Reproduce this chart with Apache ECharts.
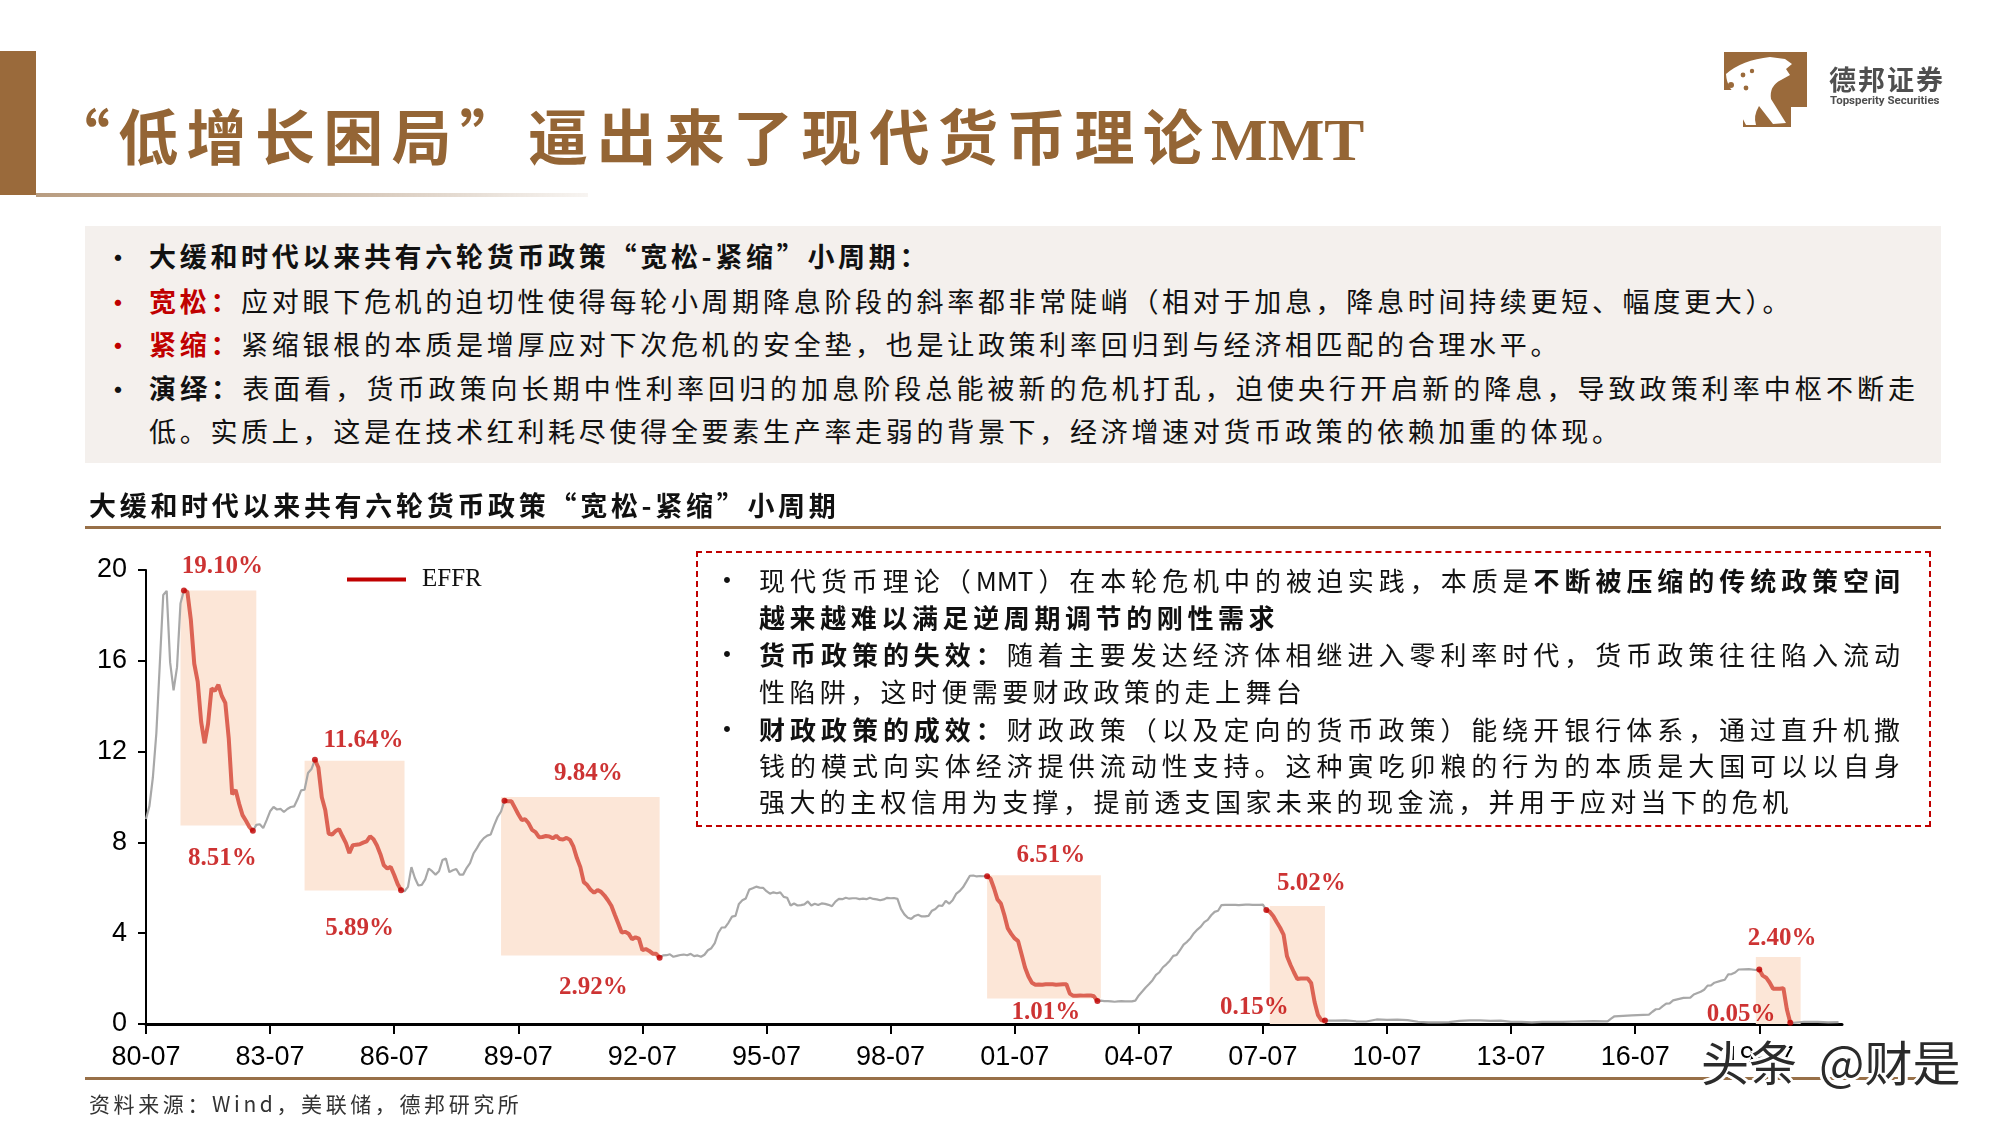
<!DOCTYPE html>
<html>
<head>
<meta charset="utf-8">
<script src="https://cdn.jsdelivr.net/npm/echarts@6/dist/echarts.min.js"></script>
<style>
  body { margin: 0; width: 2000px; height: 1125px; background: #fff; overflow: hidden; position: relative;
         font-family: "Noto Sans CJK SC", sans-serif; color: #111; }
  #chart { position: absolute; left: 0; top: 0; width: 2000px; height: 1125px; }
  .abs { position: absolute; white-space: nowrap; }
  .ln { position: absolute; white-space: nowrap; height: 44px; line-height: 44px; font-size: 27px; letter-spacing: 3.7px; }
  .dot { position: absolute; font-size: 30px; height: 44px; line-height: 44px; }
  .red { color: #c00000; font-weight: 700; }
  b { font-weight: 700; }
  .bx { position: absolute; left: 759px; height: 37px; line-height: 37px; font-size: 26px; white-space: nowrap; letter-spacing: 4.4px; }
  .bx.full { width: 1141px; text-align: justify; text-align-last: justify; letter-spacing: 0; }
  .bd { position: absolute; left: 713px; font-size: 28px; height: 37px; line-height: 37px; }
</style>
</head>
<body>
<div id="chart"></div>

<!-- header -->
<div class="abs" style="left:0;top:51px;width:36px;height:144px;background:#9a6a3b"></div>
<div class="abs" style="left:36px;top:193px;width:552px;height:4px;background:linear-gradient(to right,#b89c80,#d8cabc 60%,rgba(230,220,210,0.3))"></div>
<div class="abs" style="left:50px;top:94px;height:80px;line-height:80px;font-size:60px;font-weight:700;letter-spacing:8.3px;color:#946535">“低增长困局”逼出来了现代货币理论<span style="font-family:'Liberation Serif',serif;letter-spacing:0">MMT</span></div>

<svg class="abs" style="left:1720px;top:48px" width="95" height="85" viewBox="1720 48 95 85">
  <path d="M1724,52 H1807 V107 H1791 V127 H1743 V90 H1724 Z" fill="#9a6a3b"/>
  <path d="M1726,74 Q1742,60 1770,57 L1785,59 L1792,64 L1786,69 L1790,75 L1781,80 Q1769,86 1771,99 L1786,123 L1773,124 L1759,106 Q1753,116 1756,125 L1746,125 Q1737,110 1740,97 Q1727,90 1726,74 Z" fill="#fff"/>
  <circle cx="1731" cy="85" r="3" fill="#9a6a3b"/>
  <circle cx="1743" cy="75" r="2.4" fill="#9a6a3b"/>
  <circle cx="1752" cy="71" r="2.2" fill="#9a6a3b"/>
  <circle cx="1746" cy="88" r="2.4" fill="#9a6a3b"/>
</svg>
<div class="abs" style="left:1829px;top:63px;height:32px;line-height:32px;font-size:27px;font-weight:700;letter-spacing:2px;color:#4f4f4f">德邦证券</div>
<div class="abs" style="left:1830px;top:92px;height:16px;line-height:16px;font-size:11.5px;font-weight:700;font-family:Roboto,sans-serif;color:#4f4f4f">Topsperity Securities</div>

<!-- summary box -->
<div class="abs" style="left:85px;top:226px;width:1856px;height:237px;background:#f4f0ed"></div>
<div class="dot" style="left:103px;top:234px">•</div>
<div class="ln" style="left:149px;top:234px;font-weight:700;letter-spacing:3.7px">大缓和时代以来共有六轮货币政策“宽松-紧缩”小周期：</div>
<div class="dot" style="left:103px;top:279px;color:#c00000">•</div>
<div class="ln" style="left:149px;top:279px"><span class="red">宽松：</span>应对眼下危机的迫切性使得每轮小周期降息阶段的斜率都非常陡峭（相对于加息，降息时间持续更短、幅度更大）。</div>
<div class="dot" style="left:103px;top:322px;color:#c00000">•</div>
<div class="ln" style="left:149px;top:322px"><span class="red">紧缩：</span>紧缩银根的本质是增厚应对下次危机的安全垫，也是让政策利率回归到与经济相匹配的合理水平。</div>
<div class="dot" style="left:103px;top:366px">•</div>
<div class="ln" style="left:149px;top:366px;width:1766px;letter-spacing:0;text-align:justify;text-align-last:justify"><b>演绎：</b>表面看，货币政策向长期中性利率回归的加息阶段总能被新的危机打乱，迫使央行开启新的降息，导致政策利率中枢不断走</div>
<div class="ln" style="left:149px;top:409px">低。实质上，这是在技术红利耗尽使得全要素生产率走弱的背景下，经济增速对货币政策的依赖加重的体现。</div>

<!-- chart title -->
<div class="abs" style="left:89px;top:487px;height:36px;line-height:36px;font-size:27px;font-weight:700;letter-spacing:3.7px">大缓和时代以来共有六轮货币政策“宽松-紧缩”小周期</div>
<div class="abs" style="left:85px;top:526px;width:1856px;height:3px;background:#987048"></div>

<!-- dashed note box -->
<div class="abs" style="left:696px;top:551px;width:1231px;height:272px;border:2.5px dashed #c00000"></div>
<div class="bd" style="top:561px">•</div>
<div class="bx full" style="top:561px">现代货币理论（MMT）在本轮危机中的被迫实践，本质是<b>不断被压缩的传统政策空间</b></div>
<div class="bx" style="top:598px;font-weight:700;letter-spacing:4.6px">越来越难以满足逆周期调节的刚性需求</div>
<div class="bd" style="top:635px">•</div>
<div class="bx full" style="top:635px"><b>货币政策的失效：</b>随着主要发达经济体相继进入零利率时代，货币政策往往陷入流动</div>
<div class="bx" style="top:672px">性陷阱，这时便需要财政政策的走上舞台</div>
<div class="bd" style="top:710px">•</div>
<div class="bx full" style="top:710px"><b>财政政策的成效：</b>财政政策（以及定向的货币政策）能绕开银行体系，通过直升机撒</div>
<div class="bx full" style="top:746px">钱的模式向实体经济提供流动性支持。这种寅吃卯粮的行为的本质是大国可以以自身</div>
<div class="bx" style="top:782px">强大的主权信用为支撑，提前透支国家未来的现金流，并用于应对当下的危机</div>

<!-- footer -->
<div class="abs" style="left:85px;top:1077px;width:1856px;height:3px;background:#987048"></div>
<div class="abs" style="left:89px;top:1088px;height:30px;line-height:30px;font-size:21px;letter-spacing:3.6px;color:#333">资料来源：Wind，美联储，德邦研究所</div>
<div class="abs" style="left:1701px;top:1030px;height:60px;line-height:60px;font-size:48px;color:#2b2b2b;
  text-shadow:-3px 0 #fff,3px 0 #fff,0 -3px #fff,0 3px #fff,-2px -2px #fff,2px 2px #fff,-2px 2px #fff,2px -2px #fff">头条<span style="margin-left:22px">@财是</span></div>

<script>
// EFFR monthly (%)
const effrDates = [
  '1980-07','1980-08','1980-09','1980-10','1980-11','1980-12',
  '1981-01','1981-02','1981-03','1981-04','1981-05','1981-06','1981-07','1981-08','1981-09','1981-10','1981-11','1981-12',
  '1982-01','1982-02','1982-03','1982-04','1982-05','1982-06','1982-07','1982-08','1982-09','1982-10','1982-11','1982-12',
  '1983-01','1983-02','1983-03','1983-04','1983-05','1983-06','1983-07','1983-08','1983-09','1983-10','1983-11','1983-12',
  '1984-01','1984-02','1984-03','1984-04','1984-05','1984-06','1984-07','1984-08','1984-09','1984-10','1984-11','1984-12',
  '1985-01','1985-02','1985-03','1985-04','1985-05','1985-06','1985-07','1985-08','1985-09','1985-10','1985-11','1985-12',
  '1986-01','1986-02','1986-03','1986-04','1986-05','1986-06','1986-07','1986-08','1986-09','1986-10','1986-11','1986-12',
  '1987-01','1987-02','1987-03','1987-04','1987-05','1987-06','1987-07','1987-08','1987-09','1987-10','1987-11','1987-12',
  '1988-01','1988-02','1988-03','1988-04','1988-05','1988-06','1988-07','1988-08','1988-09','1988-10','1988-11','1988-12',
  '1989-01','1989-02','1989-03','1989-04','1989-05','1989-06','1989-07','1989-08','1989-09','1989-10','1989-11','1989-12',
  '1990-01','1990-02','1990-03','1990-04','1990-05','1990-06','1990-07','1990-08','1990-09','1990-10','1990-11','1990-12',
  '1991-01','1991-02','1991-03','1991-04','1991-05','1991-06','1991-07','1991-08','1991-09','1991-10','1991-11','1991-12',
  '1992-01','1992-02','1992-03','1992-04','1992-05','1992-06','1992-07','1992-08','1992-09','1992-10','1992-11','1992-12',
  '1993-01','1993-02','1993-03','1993-04','1993-05','1993-06','1993-07','1993-08','1993-09','1993-10','1993-11','1993-12',
  '1994-01','1994-02','1994-03','1994-04','1994-05','1994-06','1994-07','1994-08','1994-09','1994-10','1994-11','1994-12',
  '1995-01','1995-02','1995-03','1995-04','1995-05','1995-06','1995-07','1995-08','1995-09','1995-10','1995-11','1995-12',
  '1996-01','1996-02','1996-03','1996-04','1996-05','1996-06','1996-07','1996-08','1996-09','1996-10','1996-11','1996-12',
  '1997-01','1997-02','1997-03','1997-04','1997-05','1997-06','1997-07','1997-08','1997-09','1997-10','1997-11','1997-12',
  '1998-01','1998-02','1998-03','1998-04','1998-05','1998-06','1998-07','1998-08','1998-09','1998-10','1998-11','1998-12',
  '1999-01','1999-02','1999-03','1999-04','1999-05','1999-06','1999-07','1999-08','1999-09','1999-10','1999-11','1999-12',
  '2000-01','2000-02','2000-03','2000-04','2000-05','2000-06','2000-07','2000-08','2000-09','2000-10','2000-11','2000-12',
  '2001-01','2001-02','2001-03','2001-04','2001-05','2001-06','2001-07','2001-08','2001-09','2001-10','2001-11','2001-12',
  '2002-01','2002-02','2002-03','2002-04','2002-05','2002-06','2002-07','2002-08','2002-09','2002-10','2002-11','2002-12',
  '2003-01','2003-02','2003-03','2003-04','2003-05','2003-06','2003-07','2003-08','2003-09','2003-10','2003-11','2003-12',
  '2004-01','2004-02','2004-03','2004-04','2004-05','2004-06','2004-07','2004-08','2004-09','2004-10','2004-11','2004-12',
  '2005-01','2005-02','2005-03','2005-04','2005-05','2005-06','2005-07','2005-08','2005-09','2005-10','2005-11','2005-12',
  '2006-01','2006-02','2006-03','2006-04','2006-05','2006-06','2006-07','2006-08','2006-09','2006-10','2006-11','2006-12',
  '2007-01','2007-02','2007-03','2007-04','2007-05','2007-06','2007-07','2007-08','2007-09','2007-10','2007-11','2007-12',
  '2008-01','2008-02','2008-03','2008-04','2008-05','2008-06','2008-07','2008-08','2008-09','2008-10','2008-11','2008-12',
  '2009-01','2009-04','2009-07','2009-10','2010-01','2010-04','2010-07','2010-10',
  '2011-01','2011-04','2011-07','2011-10','2012-01','2012-04','2012-07','2012-10',
  '2013-01','2013-04','2013-07','2013-10','2014-01','2014-04','2014-07','2014-10',
  '2015-01','2015-04','2015-07','2015-10','2015-11','2015-12',
  '2016-01','2016-06','2016-11','2016-12','2017-01','2017-02','2017-03','2017-04','2017-05','2017-06','2017-09','2017-11','2017-12',
  '2018-02','2018-03','2018-04','2018-05','2018-06','2018-08','2018-09','2018-10','2018-11','2018-12',
  '2019-01','2019-04','2019-06','2019-07','2019-08','2019-09','2019-10','2019-11','2019-12',
  '2020-01','2020-02','2020-03','2020-04','2020-05','2020-08','2020-12','2021-03','2021-06'
];
const effrValues = [
  9.03, 9.61, 10.87, 12.81, 15.85, 18.90,
  19.08, 15.93, 14.70, 15.72, 18.52, 19.10, 19.04, 17.82, 15.87, 15.08, 13.31, 12.37,
  13.22, 14.78, 14.68, 14.94, 14.45, 14.15, 12.59, 10.12, 10.31, 9.71, 9.20, 8.95,
  8.68, 8.51, 8.77, 8.80, 8.63, 8.98, 9.37, 9.56, 9.45, 9.48, 9.34, 9.47,
  9.56, 9.59, 9.91, 10.29, 10.32, 11.06, 11.23, 11.64, 11.30, 9.99, 9.43, 8.38,
  8.35, 8.50, 8.58, 8.27, 7.97, 7.53, 7.88, 7.90, 7.92, 7.99, 8.05, 8.27,
  8.14, 7.86, 7.48, 6.99, 6.85, 6.92, 6.56, 6.17, 5.89, 5.85, 6.04, 6.91,
  6.43, 6.10, 6.13, 6.37, 6.85, 6.73, 6.58, 6.73, 7.22, 7.29, 6.69, 6.77,
  6.83, 6.58, 6.58, 6.87, 7.09, 7.51, 7.75, 8.01, 8.19, 8.30, 8.35, 8.76,
  9.12, 9.36, 9.84, 9.81, 9.81, 9.53, 9.24, 8.99, 9.02, 8.84, 8.55, 8.45,
  8.23, 8.24, 8.28, 8.26, 8.18, 8.29, 8.15, 8.13, 8.20, 8.11, 7.81, 7.31,
  6.91, 6.25, 6.12, 5.91, 5.78, 5.90, 5.82, 5.66, 5.45, 5.21, 4.81, 4.43,
  4.03, 4.06, 3.98, 3.73, 3.82, 3.76, 3.25, 3.30, 3.22, 3.10, 3.09, 2.92,
  3.02, 3.03, 3.07, 2.96, 3.00, 3.04, 3.06, 3.03, 3.09, 2.99, 3.02, 2.96,
  3.05, 3.25, 3.34, 3.56, 4.01, 4.25, 4.26, 4.47, 4.73, 4.76, 5.29, 5.45,
  5.53, 5.92, 5.98, 6.05, 6.01, 6.00, 5.85, 5.74, 5.80, 5.76, 5.80, 5.60,
  5.56, 5.22, 5.31, 5.22, 5.24, 5.27, 5.40, 5.22, 5.30, 5.24, 5.31, 5.29,
  5.25, 5.19, 5.39, 5.51, 5.50, 5.56, 5.52, 5.54, 5.54, 5.50, 5.52, 5.50,
  5.56, 5.51, 5.49, 5.45, 5.49, 5.56, 5.54, 5.55, 5.51, 5.07, 4.83, 4.68,
  4.63, 4.76, 4.81, 4.74, 4.74, 4.76, 4.99, 5.07, 5.22, 5.20, 5.42, 5.30,
  5.45, 5.73, 5.85, 6.02, 6.27, 6.53, 6.54, 6.50, 6.52, 6.51, 6.51, 6.40,
  5.98, 5.49, 5.31, 4.80, 4.21, 3.97, 3.77, 3.65, 3.07, 2.49, 2.09, 1.82,
  1.73, 1.74, 1.73, 1.75, 1.75, 1.75, 1.73, 1.74, 1.75, 1.75, 1.34, 1.24,
  1.24, 1.26, 1.25, 1.26, 1.26, 1.22, 1.01, 1.03, 1.01, 1.01, 1.00, 0.98,
  1.00, 1.01, 1.00, 1.00, 1.00, 1.03, 1.26, 1.43, 1.61, 1.76, 1.93, 2.16,
  2.28, 2.50, 2.63, 2.79, 3.00, 3.04, 3.26, 3.50, 3.62, 3.78, 4.00, 4.16,
  4.29, 4.49, 4.59, 4.79, 4.94, 4.99, 5.24, 5.25, 5.25, 5.25, 5.25, 5.24,
  5.25, 5.26, 5.26, 5.25, 5.25, 5.25, 5.26, 5.02, 4.94, 4.76, 4.49, 4.24,
  3.94, 2.98, 2.61, 2.28, 1.98, 2.00, 2.01, 2.00, 1.81, 0.97, 0.39, 0.16,
  0.15, 0.15, 0.16, 0.12, 0.11, 0.20, 0.18, 0.19,
  0.17, 0.10, 0.07, 0.07, 0.08, 0.14, 0.16, 0.16,
  0.14, 0.15, 0.09, 0.09, 0.07, 0.09, 0.09, 0.09,
  0.11, 0.12, 0.13, 0.12, 0.12, 0.24,
  0.34, 0.38, 0.41, 0.54, 0.65, 0.66, 0.79, 0.90, 0.91, 1.04, 1.15, 1.16, 1.30,
  1.42, 1.51, 1.69, 1.70, 1.82, 1.91, 1.95, 2.19, 2.20, 2.27,
  2.40, 2.42, 2.38, 2.40, 2.13, 2.04, 1.83, 1.55, 1.55,
  1.55, 1.58, 0.65, 0.05, 0.05, 0.10, 0.09, 0.07, 0.08
];

// easing cycles: from peak to trough (red segments)
const easeStart = ['1981-06', '1984-08', '1989-03', '2000-11', '2007-08', '2019-07'];
const easeEnd   = ['1983-02', '1986-09', '1992-12', '2003-07', '2009-01', '2020-04'];

// shaded boxes
const boxFrom   = ['1981-05', '1984-05', '1989-02', '2000-11', '2007-09', '2019-06'];
const boxTo     = ['1983-03', '1986-10', '1992-12', '2003-08', '2009-01', '2020-07'];
const boxTop    = [19.1, 11.6, 10.0, 6.55, 5.2, 2.95];
const boxBottom = [8.75, 5.88, 3.02, 1.12, 0, 0];

const tickLabels = ['80-07', '83-07', '86-07', '89-07', '92-07', '95-07', '98-07',
                    '01-07', '04-07', '07-07', '10-07', '13-07', '16-07', '19-07'];

// label placement (px offsets from box top / bottom centre)
const peakOffset   = [[4, -24], [9, -20], [8, -23], [7, -20], [14, -22], [4, -18]];
const troughOffset = [[4, 33], [5, 38], [13, 32], [2, 14], [-43, -16], [-37, -9]];

const toMonth = s => { const [y, m] = s.split('-').map(Number); return (y - 1980) * 12 + (m - 7); };
const tickMonth = t => { const y = +t.slice(0, 2); return ((y < 50 ? 2000 + y : 1900 + y) - 1980) * 12 + (+t.slice(3) - 7); };
const tickVals = tickLabels.map(tickMonth);
const valueAt = d => effrValues[effrDates.indexOf(d)];
const allPts = effrDates.map((d, i) => [toMonth(d), effrValues[i]]);

const numFont = "'Liberation Sans Narrow', 'Liberation Sans', Arial, sans-serif";
const redLine = '#dc6354';
const darkRed = '#c00000';

const series = [];
series.push({
  name: 'boxes', type: 'line', data: [], z: 1, silent: true,
  markArea: {
    silent: true,
    itemStyle: { color: '#fce6d7' },
    data: boxFrom.map((d, i) => [
      { coord: [toMonth(d), boxBottom[i]] },
      { coord: [toMonth(boxTo[i]), boxTop[i]] }
    ])
  }
});
series.push({
  name: 'EFFR', type: 'line', data: allPts, z: 2, showSymbol: false, silent: true,
  lineStyle: { color: '#a8a8a8', width: 2.2 }, itemStyle: { color: '#a8a8a8' }
});
easeStart.forEach((s, i) => {
  const a = toMonth(s), b = toMonth(easeEnd[i]);
  series.push({
    name: 'ease' + i, type: 'line', z: 3, showSymbol: false, silent: true,
    data: allPts.filter(p => p[0] >= a && p[0] <= b),
    lineStyle: { color: redLine, width: 4 }, itemStyle: { color: redLine }
  });
});
const endDots = [];
easeStart.forEach((s, i) => {
  endDots.push([toMonth(s), valueAt(s)]);
  endDots.push([toMonth(easeEnd[i]), valueAt(easeEnd[i])]);
});
series.push({
  name: 'ends', type: 'scatter', z: 4, silent: true, symbolSize: 6,
  itemStyle: { color: darkRed }, data: endDots
});
const labelData = [];
easeStart.forEach((s, i) => {
  const cx = (toMonth(boxFrom[i]) + toMonth(boxTo[i])) / 2;
  labelData.push({ value: [cx, boxTop[i]], label: { formatter: valueAt(s).toFixed(2) + '%', offset: peakOffset[i] } });
  labelData.push({ value: [cx, boxBottom[i]], label: { formatter: valueAt(easeEnd[i]).toFixed(2) + '%', offset: troughOffset[i] } });
});
series.push({
  name: 'labels', type: 'scatter', z: 5, silent: true, symbolSize: 1,
  itemStyle: { color: 'rgba(0,0,0,0)' },
  label: { show: true, position: 'inside', color: darkRed, fontFamily: "'Liberation Serif', 'Times New Roman', serif",
           fontWeight: 'bold', fontSize: 25 },
  data: labelData
});

const chart = echarts.init(document.getElementById('chart'), null, { renderer: 'canvas' });
chart.setOption({
  animation: false,
  backgroundColor: 'transparent',
  textStyle: { fontFamily: numFont },
  grid: { left: 146, right: 158, top: 570, bottom: 101, containLabel: false, outerBoundsMode: 'none' },
  legend: {
    left: 342, top: 562, itemWidth: 59, itemHeight: 4, icon: 'rect',
    data: [{ name: 'EFFR', icon: 'rect', itemStyle: { color: darkRed } }],
    textStyle: { fontFamily: "'Liberation Serif', serif", fontSize: 25, color: '#111', padding: [0, 0, 0, 11] }
  },
  xAxis: {
    type: 'value', min: 0, max: 492,
    axisLine: { show: true, onZero: false, lineStyle: { color: '#000', width: 3 } },
    axisTick: { show: true, customValues: tickVals, length: 10, lineStyle: { color: '#000', width: 2 } },
    axisLabel: {
      customValues: tickVals, margin: 20, color: '#000', fontFamily: numFont, fontSize: 27,
      formatter: v => tickLabels[tickVals.indexOf(v)] || ''
    },
    splitLine: { show: false }
  },
  yAxis: {
    type: 'value', min: 0, max: 20, interval: 4,
    axisLine: { show: true, lineStyle: { color: '#000', width: 2 } },
    axisTick: { show: true, length: 8, lineStyle: { color: '#000', width: 2 } },
    axisLabel: { margin: 19, color: '#000', fontFamily: numFont, fontSize: 27 },
    splitLine: { show: false }
  },
  series: series
});
</script>
</body>
</html>
